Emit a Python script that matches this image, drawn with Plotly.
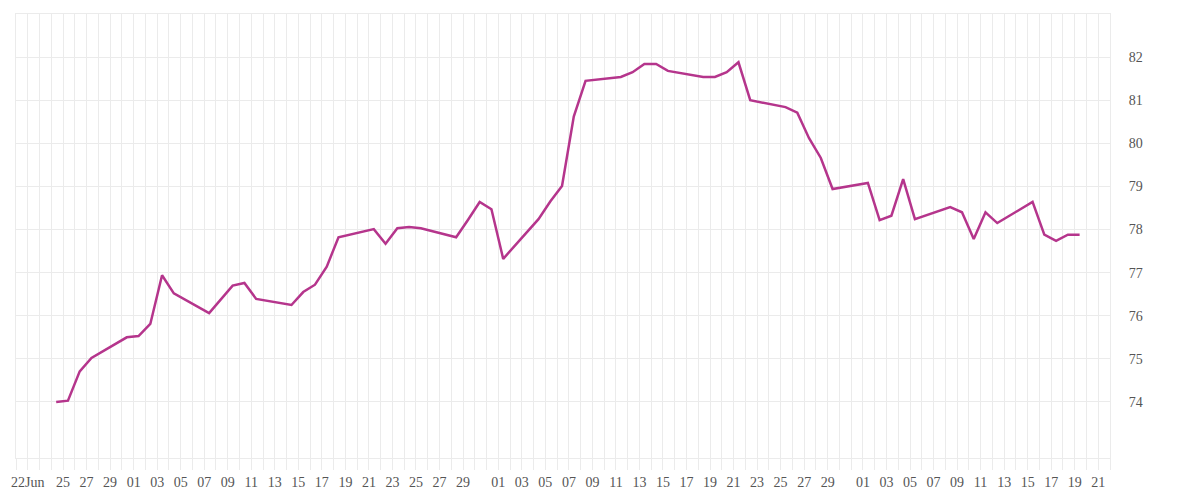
import pandas as pd
import plotly.graph_objects as go

# ---- data ----
dates = [
    "2025-06-24 10:00", "2025-06-25 10:00", "2025-06-26 10:00", "2025-06-27 10:00",
    "2025-06-30 10:00", "2025-07-01 10:00", "2025-07-02 10:00", "2025-07-03 10:00",
    "2025-07-04 10:00", "2025-07-07 10:00", "2025-07-09 10:00", "2025-07-10 10:00",
    "2025-07-11 10:00", "2025-07-14 10:00", "2025-07-15 10:00", "2025-07-16 10:00",
    "2025-07-17 10:00", "2025-07-18 10:00", "2025-07-21 10:00", "2025-07-22 10:00",
    "2025-07-23 10:00", "2025-07-24 10:00", "2025-07-25 10:00", "2025-07-28 10:00",
    "2025-07-29 10:00", "2025-07-30 10:00", "2025-07-31 10:00", "2025-08-01 10:00",
    "2025-08-04 10:00", "2025-08-05 10:00", "2025-08-06 10:00", "2025-08-07 10:00",
    "2025-08-08 10:00", "2025-08-11 10:00", "2025-08-12 10:00", "2025-08-13 10:00",
    "2025-08-14 10:00", "2025-08-15 10:00", "2025-08-18 10:00", "2025-08-19 10:00",
    "2025-08-20 10:00", "2025-08-21 10:00", "2025-08-22 10:00", "2025-08-25 10:00",
    "2025-08-26 10:00", "2025-08-27 10:00", "2025-08-28 10:00", "2025-08-29 10:00",
    "2025-09-01 10:00", "2025-09-02 10:00", "2025-09-03 10:00", "2025-09-04 10:00",
    "2025-09-05 10:00", "2025-09-08 10:00", "2025-09-09 10:00", "2025-09-10 10:00",
    "2025-09-11 10:00", "2025-09-12 10:00", "2025-09-15 10:00", "2025-09-16 10:00",
    "2025-09-17 10:00", "2025-09-18 10:00", "2025-09-19 10:00",
]
values = [
    74.00, 74.03, 74.71, 75.02,
    75.50, 75.53, 75.81, 76.94,
    76.52, 76.06, 76.70, 76.76,
    76.39, 76.25, 76.55, 76.72,
    77.14, 77.82, 78.01, 77.67,
    78.03, 78.06, 78.03, 77.82,
    78.22, 78.64, 78.47, 77.32,
    78.24, 78.65, 79.01, 80.62,
    81.45, 81.54, 81.65, 81.84,
    81.84, 81.68, 81.54, 81.54,
    81.65, 81.88, 81.00, 80.84,
    80.71, 80.12, 79.66, 78.94,
    79.08, 78.22, 78.32, 79.17,
    78.24, 78.52, 78.40, 77.78,
    78.40, 78.15, 78.64, 77.88,
    77.74, 77.88, 77.88,
]
x_start = "2025-06-21"
x_end = "2025-09-22"
y_ticks = [74, 75, 76, 77, 78, 79, 80, 81, 82]
y_range = [72.7, 83.0]

# tick labels: one tick per day, label on selected days
days = pd.date_range(x_start, x_end, freq="D")
tick_text = []
for d in days:
    if d == pd.Timestamp("2025-06-22"):
        tick_text.append("22Jun")
    elif d.month == 6 and d.day >= 25 and d.day % 2 == 1:
        tick_text.append(f"{d.day:02d}")
    elif d.month in (7, 8) and d.day % 2 == 1 and d.day != 31:
        tick_text.append(f"{d.day:02d}")
    elif d.month == 9 and d.day % 2 == 1 and d.day <= 21:
        tick_text.append(f"{d.day:02d}")
    else:
        tick_text.append("")

GRID = "#ebebeb"
FONT = "Liberation Serif"
TXT = "#555555"

fig = go.Figure()
fig.add_trace(go.Scatter(
    x=pd.to_datetime(dates), y=values, mode="lines",
    line=dict(color="#B5358C", width=2.5),
    hoverinfo="x+y", showlegend=False,
))

fig.update_layout(
    width=1200, height=500,
    margin=dict(l=8, r=98, t=6, b=50, autoexpand=False),
    paper_bgcolor="white", plot_bgcolor="white",
    font=dict(family=FONT, size=14, color=TXT),
    showlegend=False,
)
fig.update_xaxes(
    type="date", automargin=False,
    range=[x_start, x_end],
    tickmode="array", tickvals=list(days), ticktext=tick_text,
    showgrid=True, gridcolor=GRID, gridwidth=1,
    ticks="outside", ticklen=11, tickcolor=GRID, tickwidth=1,
    showline=True, linecolor=GRID, linewidth=1, mirror=True,
    zeroline=False,
    tickfont=dict(family=FONT, size=14, color=TXT),
)
fig.update_yaxes(
    side="right", range=y_range, automargin=False,
    tickmode="array", tickvals=y_ticks,
    showgrid=True, gridcolor=GRID, gridwidth=1,
    showline=True, linecolor=GRID, linewidth=1, mirror=True,
    zeroline=False,
    ticks="outside", ticklen=15, tickcolor="rgba(0,0,0,0)",
    tickfont=dict(family=FONT, size=14, color=TXT),
)

fig.write_html("out.html")
